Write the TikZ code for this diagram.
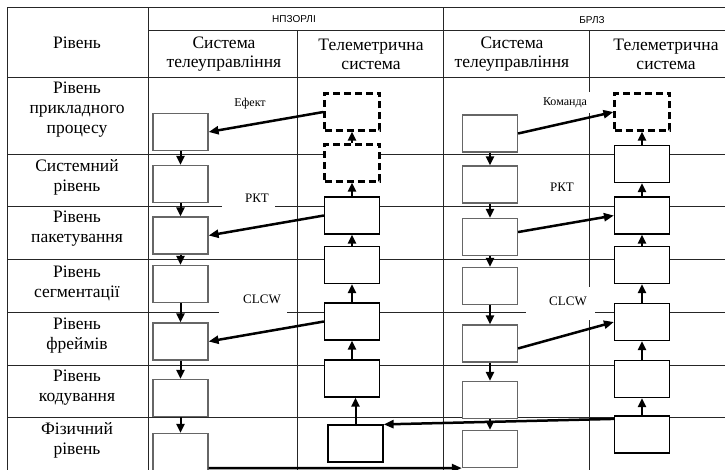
\documentclass[tikz,border=0pt]{standalone}
\usepackage{fontspec}
\setmainfont{Liberation Serif}
\newfontfamily\hdrfont{Liberation Sans}
\usetikzlibrary{arrows.meta}

\begin{document}
\begin{tikzpicture}[x=1pt, y=-1pt,
  grid/.style={draw=black!85, line width=1pt},
  tcbox/.style={rectangle, draw=black!60, fill=white, line width=1.2pt, minimum width=55pt, minimum height=37pt, inner sep=0pt},
  tmbox/.style={rectangle, draw=black, fill=white, line width=1.2pt, minimum width=55pt, minimum height=37pt, inner sep=0pt},
  dbox/.style={tmbox, line width=2.2pt, dash pattern=on 7pt off 4pt},
  cell/.style={align=center, font=\fontsize{17.5}{20}\selectfont},
  hcell/.style={align=center, font=\fontsize{17.5}{19}\selectfont},
  hdr/.style={font=\hdrfont\fontsize{10}{12}\selectfont},
  tag/.style={font=\fontsize{13}{15}\selectfont},
  smalltag/.style={font=\fontsize{12}{14}\selectfont},
  flow/.style={line width=2.5pt, -{Triangle[length=10pt, width=8pt]}},
  vflow/.style={line width=2pt, -{Triangle[length=9pt, width=8pt]}}]

\useasboundingbox (0, 0) rectangle (725, 470);

% table rules
\draw[grid] (7, 8) -- (725, 8);
\draw[grid] (148, 31) -- (725, 31);
\draw[grid] (7, 78) -- (725, 78);
\draw[grid] (7, 155) -- (725, 155);
\draw[grid] (7, 207) -- (222, 207) (275, 207) -- (725, 207);
\draw[grid] (7, 260) -- (725, 260);
\draw[grid] (7, 312) -- (219, 312) (287, 312) -- (526, 312) (595, 312) -- (725, 312);
\draw[grid] (7, 365) -- (725, 365);
\draw[grid] (7, 417) -- (725, 417);
\draw[grid] (7, 8) -- (7, 470);
\draw[grid] (148, 8) -- (148, 470);
\draw[grid] (297, 31) -- (297, 470);
\draw[grid] (443, 8) -- (443, 470);
\draw[grid] (589, 31) -- (589, 92) (589, 113) -- (589, 287) (589, 320) -- (589, 470);

% table head
\node[hdr] at (294, 19) (hnpz) {НПЗОРЛІ};
\node[hdr] at (592, 20) (hbrlz) {БРЛЗ};
\node[hcell] at (77, 43) (hlvl) {Рівень};
\node[hcell] at (224, 54) (hnptc) {Система\\телеуправління};
\node[hcell] at (371, 54) (hnptm) {Телеметрична\\система};
\node[hcell] at (512, 54) (hbrtc) {Система\\телеуправління};
\node[hcell] at (666, 54) (hbrtm) {Телеметрична\\система};

% levels
\node[cell] at (77, 110) (lapp) {Рівень\\прикладного\\процесу};
\node[cell] at (77, 177) (lsys) {Системний\\рівень};
\node[cell] at (77, 229) (lpkt) {Рівень\\пакетування};
\node[cell] at (77, 283) (lseg) {Рівень\\сегментації};
\node[cell] at (77, 336) (lfrm) {Рівень\\фреймів};
\node[cell] at (77, 388) (lcod) {Рівень\\кодування};
\node[cell] at (77, 440) (lphy) {Фізичний\\рівень};

% npzorli telecommand system
\node[tcbox] at (180.5, 132) (nptc1) {};
\node[tcbox] at (180.5, 184) (nptc2) {};
\node[tcbox] at (180.5, 235.5) (nptc3) {};
\node[tcbox] at (180.5, 284) (nptc4) {};
\node[tcbox] at (180.5, 341.5) (nptc5) {};
\node[tcbox] at (180.5, 398) (nptc6) {};
\node[tcbox] at (180.5, 452) (nptc7) {};
\draw[vflow] (nptc1) -- (nptc2);
\draw[vflow] (nptc2) -- (nptc3);
\draw[vflow] (nptc3) -- (nptc4);
\draw[vflow] (nptc4) -- (nptc5);
\draw[vflow] (nptc5) -- (nptc6);
\draw[vflow] (nptc6) -- (nptc7);

% npzorli telemetry system
\node[dbox] at (352, 112) (nptm1) {};
\node[dbox] at (352, 163) (nptm2) {};
\node[tmbox] at (352, 215.5) (nptm3) {};
\node[tmbox] at (352, 265) (nptm4) {};
\node[tmbox] at (352, 321.5) (nptm5) {};
\node[tmbox] at (352, 378.5) (nptm6) {};
\node[tmbox] at (355.5, 443.5) (nptm7) {};
\draw[vflow] (nptm2) -- (nptm1);
\draw[vflow] (nptm3) -- (nptm2);
\draw[vflow] (nptm4) -- (nptm3);
\draw[vflow] (nptm5) -- (nptm4);
\draw[vflow] (nptm6) -- (nptm5);
\draw[vflow] (nptm7.north) -- (nptm7.north |- nptm6.south);

% brlz telecommand system
\node[tcbox] at (490, 133.5) (brtc1) {};
\node[tcbox] at (490, 184.5) (brtc2) {};
\node[tcbox] at (490, 237) (brtc3) {};
\node[tcbox] at (490, 286) (brtc4) {};
\node[tcbox] at (490, 343.5) (brtc5) {};
\node[tcbox] at (490, 400) (brtc6) {};
\node[tcbox] at (490, 449) (brtc7) {};
\draw[vflow] (brtc1) -- (brtc2);
\draw[vflow] (brtc2) -- (brtc3);
\draw[vflow] (brtc3) -- (brtc4);
\draw[vflow] (brtc4) -- (brtc5);
\draw[vflow] (brtc5) -- (brtc6);
\draw[vflow] (brtc6) -- (brtc7);

% brlz telemetry system
\node[dbox] at (642, 112) (brtm1) {};
\node[tmbox] at (642, 164) (brtm2) {};
\node[tmbox] at (642, 215.5) (brtm3) {};
\node[tmbox] at (642, 265) (brtm4) {};
\node[tmbox] at (642, 322) (brtm5) {};
\node[tmbox] at (642, 379) (brtm6) {};
\node[tmbox] at (642, 434.5) (brtm7) {};
\draw[vflow] (brtm2) -- (brtm1);
\draw[vflow] (brtm3) -- (brtm2);
\draw[vflow] (brtm4) -- (brtm3);
\draw[vflow] (brtm5) -- (brtm4);
\draw[vflow] (brtm6) -- (brtm5);
\draw[vflow] (brtm7) -- (brtm6);

% effect, packets, clcw
\draw[flow] (nptm1.west) -- (nptc1.east);
\node[smalltag] at (250, 104) (effect) {Ефект};
\draw[flow] (nptm3.west) -- (nptc3.east);
\node[tag] at (257, 198) (pkta) {РКТ};
\draw[flow] (nptm5.west) -- (nptc5.east);
\node[tag] at (262, 299) (clcwa) {CLCW};

% command, packets, clcw
\draw[flow] (brtc1.east) -- (brtm1.west);
\node[smalltag] at (565, 103) (cmd) {Команда};
\draw[flow] (brtc3.10) -- (brtm3.west);
\node[tag] at (562, 187) (pktb) {РКТ};
\draw[flow] (brtc5.-10) -- (brtm5.west);
\node[tag] at (568, 301) (clcwb) {CLCW};

% physical link
\draw[flow] (brtm7.151) -- (nptm7.north east);
\draw[flow] (nptc7.-30) -- (brtc7.south west);

\end{tikzpicture}
\end{document}
